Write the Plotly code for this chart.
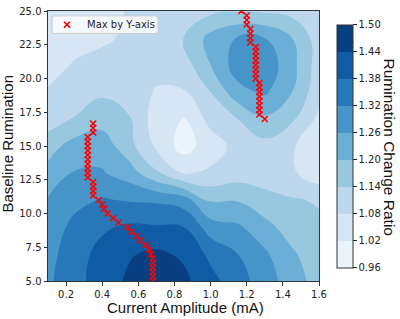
import plotly.graph_objects as go

# grid coordinates
x_grid = [0.1, 0.25, 0.4, 0.55, 0.7, 0.85, 1.0, 1.15, 1.3, 1.45, 1.6]
y_grid = [5, 7, 9, 11, 13, 15, 17, 19, 21, 23, 25]

# rumination change ratio, one row per y value (bottom to top)
z_y05 = [1.31, 1.36, 1.41, 1.45, 1.48, 1.455, 1.40, 1.345, 1.29, 1.23, 1.175]
z_y07 = [1.30, 1.355, 1.40, 1.435, 1.452, 1.43, 1.365, 1.32, 1.27, 1.21, 1.16]
z_y09 = [1.28, 1.34, 1.37, 1.39, 1.385, 1.38, 1.29, 1.27, 1.22, 1.17, 1.15]
z_y11 = [1.265, 1.30, 1.325, 1.315, 1.31, 1.29, 1.19, 1.195, 1.16, 1.145, 1.135]
z_y13 = [1.22, 1.265, 1.265, 1.23, 1.15, 1.075, 1.09, 1.11, 1.11, 1.09, 1.04]
z_y15 = [1.175, 1.225, 1.235, 1.16, 1.07, 0.995, 1.05, 1.10, 1.12, 1.085, 1.05]
z_y17 = [1.11, 1.145, 1.175, 1.145, 1.05, 1.018, 1.10, 1.14, 1.19, 1.15, 1.065]
z_y19 = [1.085, 1.10, 1.13, 1.11, 1.075, 1.075, 1.14, 1.24, 1.27, 1.20, 1.10]
z_y21 = [1.06, 1.085, 1.10, 1.10, 1.10, 1.11, 1.20, 1.29, 1.30, 1.22, 1.11]
z_y23 = [1.05, 1.06, 1.07, 1.09, 1.10, 1.14, 1.22, 1.265, 1.26, 1.20, 1.11]
z_y25 = [1.04, 1.05, 1.065, 1.083, 1.09, 1.11, 1.125, 1.135, 1.13, 1.12, 1.10]
z = [z_y05, z_y07, z_y09, z_y11, z_y13, z_y15, z_y17, z_y19, z_y21, z_y23, z_y25]

# max-by-y-axis markers
max_y = [5.0, 5.33, 5.67, 6.0, 6.33, 6.67, 7.0, 7.33, 7.67, 8.0, 8.33, 8.67, 9.0,
         9.33, 9.67, 10.0, 10.33, 10.67, 11.0, 11.33, 11.67, 12.0, 12.33, 12.67,
         13.0, 13.33, 13.67, 14.0, 14.33, 14.67, 15.0, 15.33, 15.67, 16.0, 16.33,
         16.67, 17.0, 17.33, 17.67, 18.0, 18.33, 18.67, 19.0, 19.33, 19.67, 20.0,
         20.33, 20.67, 21.0, 21.33, 21.67, 22.0, 22.33, 22.67, 23.0, 23.33, 23.67,
         24.0, 24.33, 24.67, 25.0]
max_x = [0.68, 0.68, 0.68, 0.68, 0.68, 0.68, 0.67, 0.66, 0.64, 0.61, 0.59, 0.56, 0.54,
         0.49, 0.46, 0.43, 0.41, 0.40, 0.38, 0.35, 0.35, 0.35, 0.35, 0.32,
         0.32, 0.32, 0.32, 0.32, 0.32, 0.32, 0.32, 0.32, 0.32, 0.35, 0.35,
         0.35, 1.30, 1.27, 1.27, 1.27, 1.27, 1.27, 1.27, 1.27, 1.27, 1.25,
         1.25, 1.25, 1.25, 1.25, 1.25, 1.25, 1.25, 1.22, 1.22, 1.22, 1.22,
         1.20, 1.20, 1.20, 1.17]
legend_label = 'Max by Y-axis'

levels_start, levels_end, levels_step = 0.96, 1.50, 0.06
cbar_ticks = [0.96, 1.02, 1.08, 1.14, 1.20, 1.26, 1.32, 1.38, 1.44, 1.50]

band_colors = ['rgb(236,244,251)', 'rgb(214,230,244)', 'rgb(189,215,236)',
               'rgb(152,199,224)', 'rgb(107,174,214)', 'rgb(71,149,200)',
               'rgb(40,120,185)', 'rgb(16,92,164)', 'rgb(8,63,129)']
cs = []
edges = [0.0] + [(k + 1.5) / 10 for k in range(8)] + [1.0]
for k, c in enumerate(band_colors):
    cs.append([edges[k], c])
    cs.append([edges[k + 1], c])

fig = go.Figure()
fig.add_trace(go.Contour(
    x=x_grid, y=y_grid, z=z,
    zmin=levels_start, zmax=levels_end,
    contours=dict(start=levels_start, end=levels_end, size=levels_step, coloring='fill'),
    line=dict(width=0, smoothing=1.3),
    colorscale=cs,
    showlegend=False,
    colorbar=dict(
        x=1.066, xanchor='left', xpad=0, y=0.5, yanchor='middle', ypad=0,
        len=0.899, lenmode='fraction', thickness=16,
        outlinewidth=1, outlinecolor='#333333',
        tickvals=cbar_ticks, ticktext=[f'{v:.2f}' for v in cbar_ticks],
        ticks='outside', ticklen=3.5, tickwidth=0.8, tickcolor='#222',
        tickfont=dict(family='DejaVu Sans', size=10, color='#222'),
    ),
))
fig.add_trace(go.Scatter(
    x=max_x, y=max_y, mode='markers', name=legend_label, showlegend=False,
    marker=dict(symbol='x-thin', size=6, color='red', line=dict(width=1.6, color='red')),
))

axis_common = dict(showline=True, linecolor='#333333', linewidth=1, mirror=True,
                   ticks='outside', ticklen=3.5, tickwidth=0.8, tickcolor='#333',
                   tickfont=dict(family='DejaVu Sans', size=10, color='#222'),
                   ticklabeloverflow='allow',
                   showgrid=False, zeroline=False)
fig.update_xaxes(range=[0.1, 1.6], tickvals=[0.2, 0.4, 0.6, 0.8, 1.0, 1.2, 1.4, 1.6],
                 ticktext=['0.2', '0.4', '0.6', '0.8', '1.0', '1.2', '1.4', '1.6'], **axis_common)
fig.update_yaxes(range=[5, 25], tickvals=[5, 7.5, 10, 12.5, 15, 17.5, 20, 22.5, 25],
                 ticktext=['5.0', '7.5', '10.0', '12.5', '15.0', '17.5', '20.0', '22.5', '25.0'],
                 **axis_common)

# legend box drawn in paper coordinates (plot area is 271 x 276 px)
PW, PH = 271.0, 276.0
def px(u):
    return u / PW
def py(v):
    return 1 - v / PH
r = 2.5
path = (f'M {px(4 + r)},{py(5)} L {px(110 - r)},{py(5)} Q {px(110)},{py(5)} {px(110)},{py(5 + r)} '
        f'L {px(110)},{py(23 - r)} Q {px(110)},{py(23)} {px(110 - r)},{py(23)} '
        f'L {px(4 + r)},{py(23)} Q {px(4)},{py(23)} {px(4)},{py(23 - r)} '
        f'L {px(4)},{py(5 + r)} Q {px(4)},{py(5)} {px(4 + r)},{py(5)} Z')
shapes = [dict(type='path', xref='paper', yref='paper', path=path,
               fillcolor='rgba(255,255,255,0.8)', line=dict(color='#cccccc', width=1), layer='above')]
cx, cy, h = 19, 14, 3
shapes.append(dict(type='line', xref='paper', yref='paper', x0=px(cx - h), y0=py(cy - h),
                   x1=px(cx + h), y1=py(cy + h), line=dict(color='red', width=1.6), layer='above'))
shapes.append(dict(type='line', xref='paper', yref='paper', x0=px(cx - h), y0=py(cy + h),
                   x1=px(cx + h), y1=py(cy - h), line=dict(color='red', width=1.6), layer='above'))

fig.update_layout(
    width=400, height=319,
    margin=dict(l=48, r=81, t=5, b=38),
    paper_bgcolor='white', plot_bgcolor='white',
    showlegend=False,
    shapes=shapes,
    annotations=[
        dict(text=legend_label, xref='paper', yref='paper', x=px(37), y=py(14),
             xanchor='left', yanchor='middle', showarrow=False,
             font=dict(family='DejaVu Sans', size=10, color='#222')),
        dict(text='Current Amplitude (mA)', xref='paper', yref='paper', x=0.509, y=-0.098,
             xanchor='center', yanchor='middle', showarrow=False,
             font=dict(family='Liberation Sans', size=15, color='#111')),
        dict(text='Baseline Rumination', xref='paper', yref='paper', x=-0.1476, y=0.509,
             xanchor='center', yanchor='middle', showarrow=False, textangle=-90,
             font=dict(family='Liberation Sans', size=15, color='#111')),
        dict(text='Rumination Change Ratio', xref='paper', yref='paper', x=1.262, y=0.4946,
             xanchor='center', yanchor='middle', showarrow=False, textangle=90,
             font=dict(family='Liberation Sans', size=15.5, color='#111')),
    ],
)
fig.write_html('out.html')
